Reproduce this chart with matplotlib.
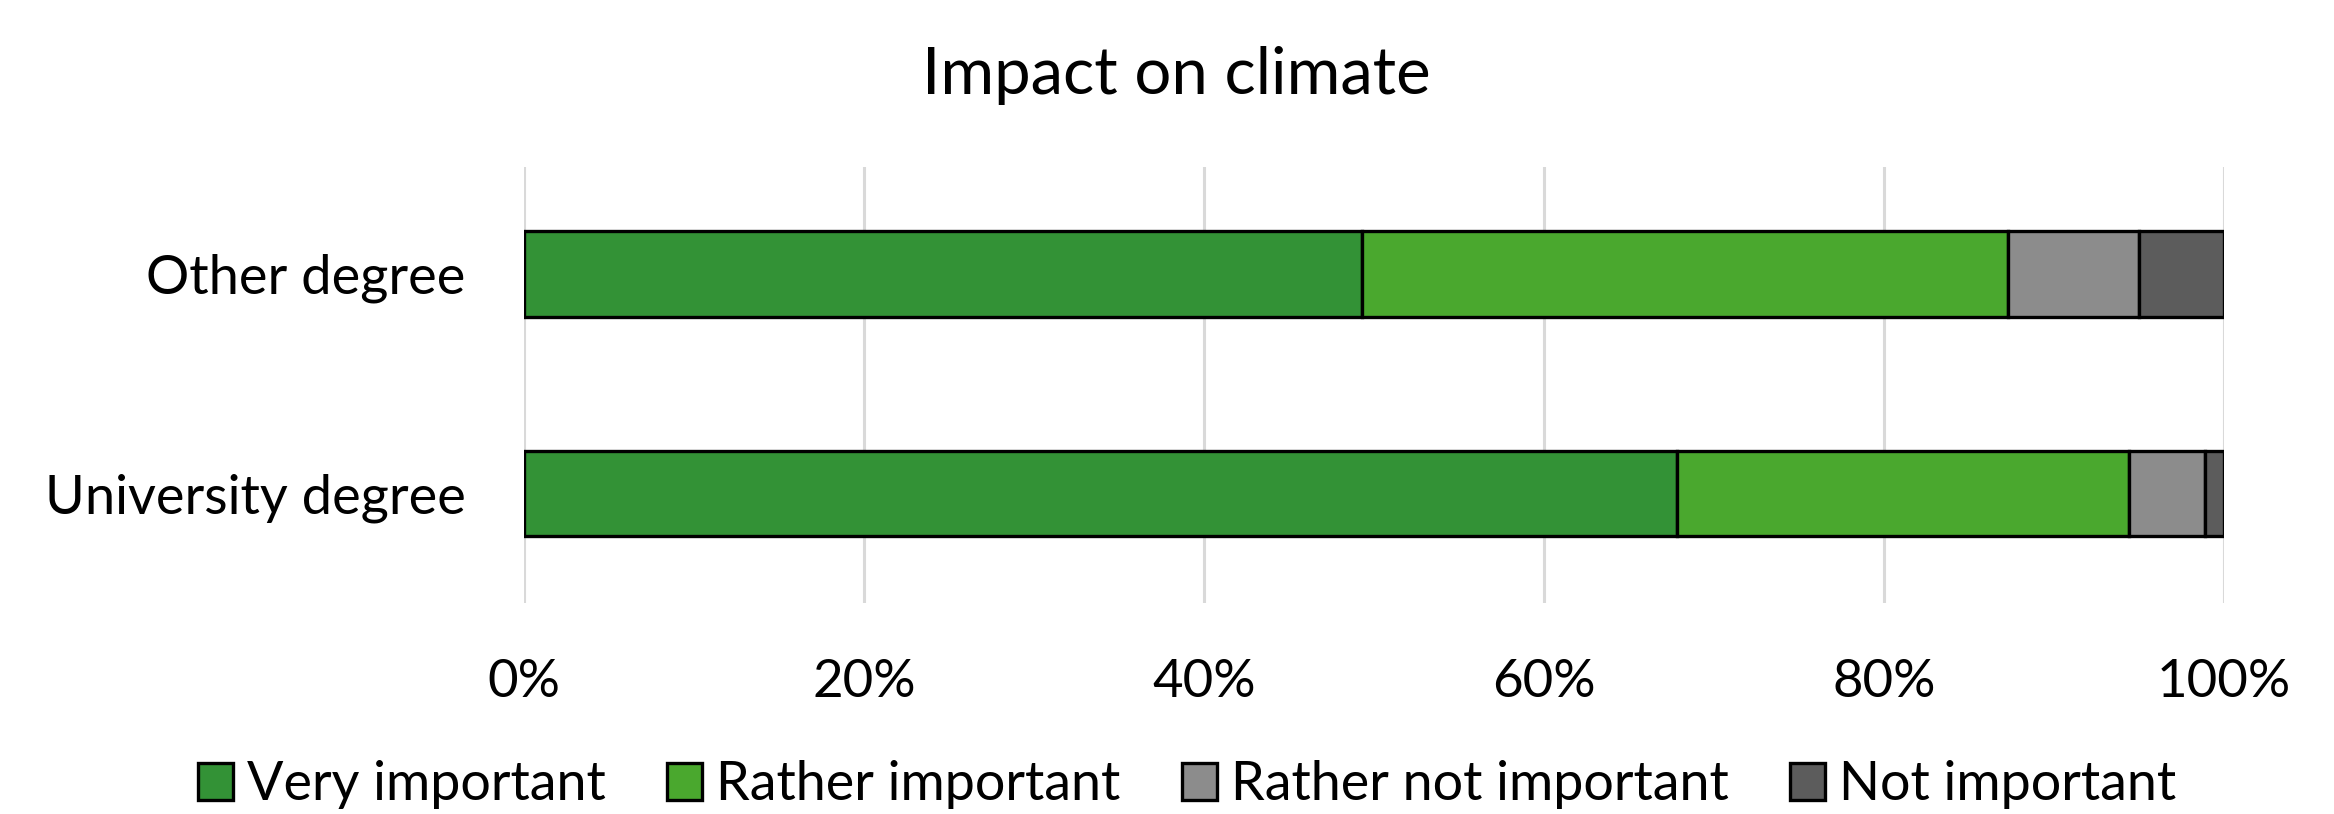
import matplotlib.pyplot as plt
import numpy as np
from matplotlib.ticker import PercentFormatter

plt.rcParams['font.family'] = ['Lato', 'DejaVu Sans']

groups = ['University degree', 'Other degree']
answers = ['Very important', 'Rather important', 'Rather not important', 'Not important']
very = [67.8, 49.3]
rather = [26.6, 38.0]
rather_not = [4.5, 7.7]
not_imp = [1.1, 5.0]
colors = ['#339236', '#4aa82e', '#8c8c8c', '#5c5c5c']

fig = plt.figure(figsize=(23.34, 8.14), dpi=100)
ax = fig.add_axes([0.2245, 0.2592, 0.7284, 0.5356])

y = np.arange(len(groups))
left = np.zeros(len(groups))
for vals, name, col in zip([very, rather, rather_not, not_imp], answers, colors):
    ax.barh(y, vals, left=left, height=0.39, color=col, edgecolor='black',
            linewidth=2.4, label=name, zorder=3)
    left += np.array(vals)

ax.set_xlim(0, 100)
ax.set_ylim(-0.499, 1.487)
ax.set_xticks([0, 20, 40, 60, 80, 100])
ax.xaxis.set_major_formatter(PercentFormatter(decimals=0))
ax.set_yticks(y)
ax.set_yticklabels(groups)
ax.tick_params(axis='y', length=0, pad=42, labelsize=39)
ax.tick_params(axis='x', length=0, pad=40, labelsize=38)
ax.grid(axis='x', color='#d9d9d9', linewidth=2.2, zorder=0)
for s in ax.spines.values():
    s.set_visible(False)

fig.text(0.504, 0.8845, 'Impact on climate', ha='center', va='baseline', fontsize=47)

fig.legend(loc='center', bbox_to_anchor=(0.5086, 0.036), ncol=4, frameon=False,
           fontsize=38.8, handlelength=0.65, handleheight=0.69, handletextpad=0.25,
           columnspacing=1.15)

fig.savefig('out.png', dpi=100)
